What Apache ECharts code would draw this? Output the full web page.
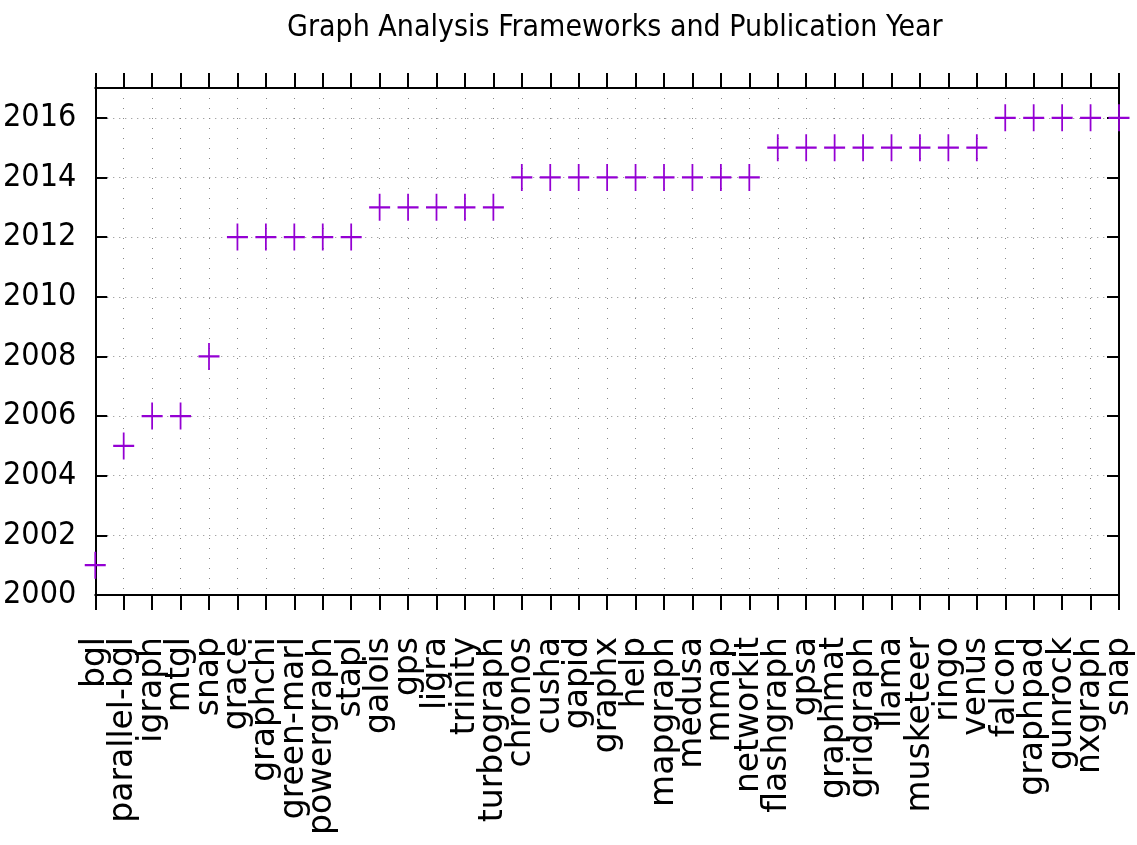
<!DOCTYPE html>
<html>
<head>
<meta charset="utf-8">
<script src="https://cdn.jsdelivr.net/npm/echarts@6/dist/echarts.min.js"></script>
<style>html,body{margin:0;padding:0;background:#fff;}#c{width:1137px;height:845px;}</style>
</head>
<body>
<div id="c"></div>
<script>
const frameworks = ['bgl','parallel-bgl','igraph','mtgl','snap','grace','graphchi','green-marl','powergraph','stapl','galois','gps','ligra','trinity','turbograph','chronos','cusha','gapid','graphx','help','mapgraph','medusa','mmap','networkit','flashgraph','gpsa','graphmat','gridgraph','llama','musketeer','ringo','venus','falcon','graphpad','gunrock','nxgraph','snap'];
const years = [2001,2005,2006,2006,2008,2012,2012,2012,2012,2012,2013,2013,2013,2013,2013,2014,2014,2014,2014,2014,2014,2014,2014,2014,2015,2015,2015,2015,2015,2015,2015,2015,2016,2016,2016,2016,2016];
const yMin = 2000, yMax = 2017, yStep = 2;
const titleText = 'Graph Analysis Frameworks and Publication Year';

const chart = echarts.init(document.getElementById('c'), null, {renderer:'canvas'});
const condensed = '"DejaVu Sans Condensed", "DejaVu Sans", sans-serif';
chart.setOption({
  animation:false,
  backgroundColor:'#fff',
  title:{text:titleText, left:282, top:8, textStyle:{fontFamily:condensed, fontWeight:'normal', fontSize:30, color:'#000'}},
  grid:{left:95, right:18, top:88, bottom:250, containLabel:false},
  xAxis:[
    {type:'category', data:frameworks, boundaryGap:false, position:'bottom',
     axisLine:{show:true, lineStyle:{color:'#000', width:2}},
     axisTick:{show:true, inside:false, length:15, interval:0, lineStyle:{color:'#000', width:2}},
     axisLabel:{show:true, interval:0, rotate:90, margin:42, fontFamily:'"DejaVu Sans", sans-serif', fontSize:33, color:'#000'},
     splitLine:{show:true, interval:0, lineStyle:{color:'#888', width:1, type:[1,9]}}},
    {type:'category', data:frameworks, boundaryGap:false, position:'top',
     axisLine:{show:true, lineStyle:{color:'#000', width:2}},
     axisTick:{show:true, inside:false, length:15, interval:0, lineStyle:{color:'#000', width:2}},
     axisLabel:{show:false}, splitLine:{show:false}}
  ],
  yAxis:[
    {type:'value', min:yMin, max:yMax, interval:yStep, position:'left',
     axisLine:{show:true, lineStyle:{color:'#000', width:2}},
     axisTick:{show:true, inside:true, length:12, lineStyle:{color:'#000', width:2}},
     axisLabel:{show:true, margin:19, fontFamily:condensed, fontSize:32, color:'#000',
       formatter:function(v){return v===yMax?'':String(v);}},
     splitLine:{show:true, lineStyle:{color:'#888', width:1, type:[1,5]}}},
    {type:'value', min:yMin, max:yMax, interval:yStep, position:'right',
     axisLine:{show:true, lineStyle:{color:'#000', width:2}},
     axisTick:{show:true, inside:true, length:12, lineStyle:{color:'#000', width:2}},
     axisLabel:{show:false}, splitLine:{show:false}}
  ],
  series:[{
    type:'scatter', xAxisIndex:0, yAxisIndex:0, data:years, clip:false,
    symbol:'path://M0,10L20,10M10,0L10,20', symbolSize:[21,27], symbolKeepAspect:false,
    itemStyle:{color:'transparent', borderColor:'#9400D3', borderWidth:2, opacity:1},
    emphasis:{disabled:true}
  }]
});
</script>
</body>
</html>
